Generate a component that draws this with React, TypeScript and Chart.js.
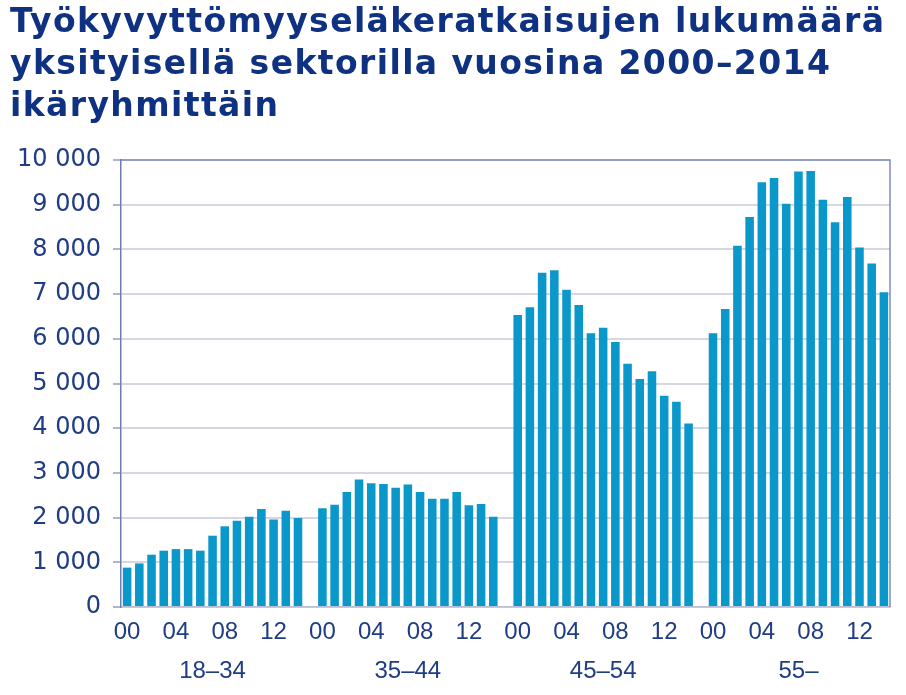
import React, { useEffect, useRef } from "react";
import { Chart, registerables } from "chart.js";

Chart.register(...registerables);

const titleLines = [
  "Työkyvyttömyyseläkeratkaisujen lukumäärä",
  "yksityisellä sektorilla vuosina 2000–2014",
  "ikäryhmittäin",
];

const years = ["00", "01", "02", "03", "04", "05", "06", "07", "08", "09", "10", "11", "12", "13", "14"];
const groups = ["18–34", "35–44", "45–54", "55–"];

const age18_34 = [880, 975, 1170, 1260, 1295, 1295, 1260, 1595, 1805, 1930, 2020, 2195, 1955, 2155, 1990];
const age35_44 = [2210, 2285, 2575, 2855, 2770, 2750, 2665, 2740, 2575, 2420, 2420, 2575, 2275, 2305, 2020];
const age45_54 = [6530, 6705, 7475, 7535, 7100, 6755, 6125, 6245, 5930, 5440, 5100, 5275, 4725, 4590, 4105];
const age55 = [6125, 6665, 8080, 8725, 9500, 9595, 9020, 9740, 9755, 9110, 8605, 9175, 8045, 7685, 7040];

const yTicksMax = 10000;
const yTicksStep = 1000;

const seriesByGroup = [age18_34, age35_44, age45_54, age55];

const labels: string[] = [];
const values: (number | null)[] = [];
seriesByGroup.forEach((arr, g) => {
  years.forEach((y, i) => {
    labels.push(y);
    values.push(arr[i]);
  });
  if (g < seriesByGroup.length - 1) {
    labels.push("");
    values.push(null);
  }
});

const fmt = (v: number) => String(v).replace(/\B(?=(\d{3})+(?!\d))/g, " ");

export default function App() {
  const ref = useRef<HTMLCanvasElement>(null);
  useEffect(() => {
    if (!ref.current) return;
    const framePlugin = {
      id: "frame",
      afterDatasetsDraw(chart: any) {
        const { ctx, chartArea } = chart;
        ctx.save();
        ctx.strokeStyle = "#7f8cbc";
        ctx.lineWidth = 1.5;
        ctx.beginPath();
        ctx.moveTo(chartArea.left, chartArea.top);
        ctx.lineTo(chartArea.right, chartArea.top);
        ctx.lineTo(chartArea.right, chartArea.bottom);
        ctx.stroke();
        ctx.restore();
      },
    };
    const chart = new Chart(ref.current, {
      type: "bar",
      data: {
        labels,
        datasets: [
          {
            data: values,
            backgroundColor: "#0a97ca",
            categoryPercentage: 1,
            barPercentage: 0.7,
          },
        ],
      },
      options: {
        responsive: false,
        animation: false,
        layout: { padding: { top: 160, right: 16, left: 0, bottom: 0 } },
        plugins: {
          legend: { display: false },
          tooltip: { enabled: false },
          title: { display: false },
        },
        scales: {
          x: {
            type: "category",
            offset: true,
            grid: { display: false, drawTicks: false },
            border: { display: true, color: "#b9bdd0", width: 1.5 },
            ticks: {
              autoSkip: false,
              maxRotation: 0,
              minRotation: 0,
              padding: 11,
              color: "#1f3c84",
              font: { family: "Liberation Sans", size: 24 },
              callback: (_v: any, i: number) => {
                const k = i % 16;
                return k === 0 || k === 4 || k === 8 || k === 12 ? labels[i] : "";
              },
            },
            afterFit: (s: any) => {
              s.height = 50;
            },
          },
          x2: {
            type: "category",
            position: "bottom",
            labels,
            offset: true,
            grid: { display: false, drawTicks: false },
            border: { display: false },
            ticks: {
              autoSkip: false,
              maxRotation: 0,
              minRotation: 0,
              padding: 0,
              color: "#1f3c84",
              font: { family: "Liberation Sans", size: 24 },
              callback: (_v: any, i: number) => (i % 16 === 7 ? groups[Math.floor(i / 16)] : ""),
            },
            afterFit: (s: any) => {
              s.height = 38;
            },
          },
          y: {
            min: 0,
            max: yTicksMax,
            grid: { color: "#d6d7e2", lineWidth: 2, tickLength: 8, tickColor: "#b0b6cc" },
            border: { display: true, color: "#6d7db2", width: 1.5 },
            ticks: {
              stepSize: yTicksStep,
              padding: 12,
              color: "#1f3c84",
              font: { family: "DejaVu Sans", size: 24 },
              callback: (v: any) => fmt(Number(v)),
            },
            afterFit: (s: any) => {
              s.width = 121;
            },
          },
        },
      },
      plugins: [framePlugin],
    });
    return () => chart.destroy();
  }, []);

  return (
    <div style={{ position: "absolute", left: 0, top: 0, width: 906, height: 695, background: "#fff" }}>
      <canvas ref={ref} width={906} height={695} style={{ position: "absolute", left: 0, top: 0, width: 906, height: 695 }} />
      <div
        style={{
          position: "absolute",
          left: 10,
          top: 0,
          fontFamily: "DejaVu Sans",
          fontWeight: "bold",
          fontSize: 33,
          letterSpacing: "1.4px",
          lineHeight: "42px",
          color: "#0f3182",
          whiteSpace: "nowrap",
        }}
      >
        {titleLines.map((t, i) => (
          <div key={i}>{t}</div>
        ))}
      </div>
    </div>
  );
}
